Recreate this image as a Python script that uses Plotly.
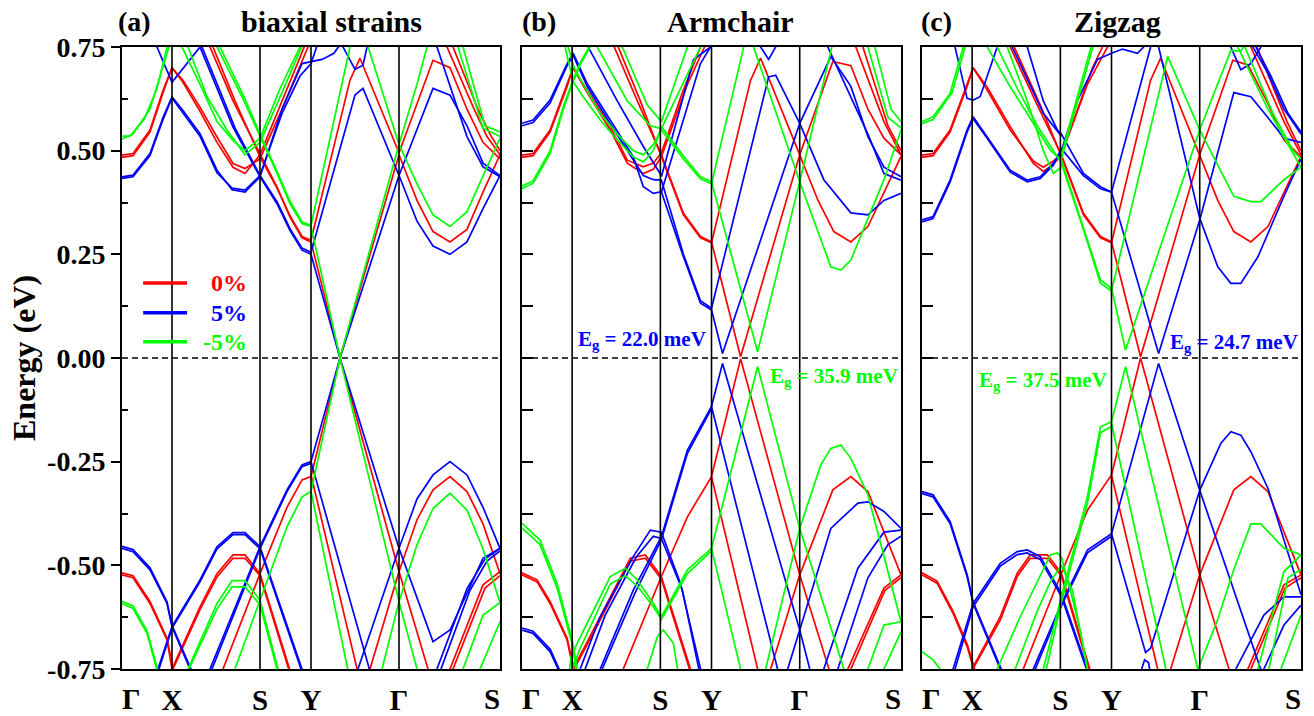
import plotly.graph_objects as go

# ---------------- data ----------------
K_TICKS = [0, 50, 138, 189, 277, 378]          # path length of Γ, X, S, Y, Γ, S
K_LABELS = ["Γ", "X", "S", "Y", "Γ", "S"]
E_TICKS = [-0.75, -0.5, -0.25, 0.0, 0.25, 0.5, 0.75]
E_LABELS = ["-0.75", "-0.50", "-0.25", "0.00", "0.25", "0.50", "0.75"]
E_MINOR = [-0.625, -0.375, -0.125, 0.125, 0.375, 0.625]
STRAIN_LABELS = ["0%", "5%", "-5%"]
PANEL_TAGS = ["(a)", "(b)", "(c)"]
PANEL_TITLES = ["biaxial strains", "Armchair", "Zigzag"]
GAP_B = ["22.0", "35.9"]   # blue, green (armchair)
GAP_C = ["24.7", "37.5"]   # blue, green (zigzag)

# each band: list of (k, E[eV])
A_RED = [
    [(0,0.489),(11,0.493),(28,0.55),(41,0.645),(50,0.70),(61,0.67),(78,0.605),(95,0.533),(111,0.469),(123,0.457),(138,0.48),(160,0.60),(186,0.75),(192,0.79)],
    [(0,0.484),(11,0.488),(28,0.545),(41,0.64),(50,0.70),(61,0.665),(78,0.595),(95,0.52),(111,0.46),(123,0.445),(138,0.49),(162,0.63),(183,0.75),(189,0.79)],
    [(84,0.80),(88,0.75),(111,0.62),(138,0.49),(155,0.412),(168,0.34),(180,0.29),(189,0.28),(218,0.0),(277,0.49),(295,0.38),(311,0.305),(328,0.28),(345,0.31),(361,0.40),(378,0.49)],
    [(87,0.80),(91,0.75),(113,0.62),(138,0.485),(155,0.41),(168,0.343),(180,0.293),(189,0.284),(228,0.67),(238,0.723),(277,0.495),(311,0.718),(328,0.70),(345,0.60),(361,0.52),(378,0.48)],
    [(322,0.80),(325,0.75),(351,0.606),(365,0.534),(378,0.49)],
    [(328,0.80),(331,0.75),(356,0.60),(368,0.54),(378,0.50)],
    [(0,-0.523),(11,-0.53),(28,-0.592),(45,-0.68),(50,-0.75),(54,-0.80)],
    [(0,-0.518),(11,-0.525),(28,-0.587),(45,-0.676),(51,-0.75),(55,-0.80)],
    [(46,-0.80),(50,-0.75),(78,-0.60),(95,-0.52),(111,-0.475),(123,-0.475),(138,-0.52),(168,-0.75),(174,-0.80)],
    [(47,-0.80),(51,-0.75),(78,-0.607),(95,-0.528),(111,-0.483),(123,-0.483),(138,-0.525),(167,-0.75),(173,-0.80)],
    [(95,-0.80),(101,-0.75),(138,-0.52),(165,-0.36),(180,-0.294),(189,-0.286),(218,0.0),(277,-0.515),(306,-0.75),(310,-0.78)],
    [(189,-0.282),(235,-0.75),(238,-0.78)],
    [(245,-0.78),(248,-0.75),(277,-0.515),(295,-0.39),(311,-0.318),(328,-0.286),(345,-0.322),(361,-0.40),(378,-0.52)],
    [(325,-0.78),(328,-0.75),(361,-0.547),(378,-0.515)],
    [(328,-0.78),(331,-0.75),(363,-0.555),(378,-0.525)],
]
A_BLUE = [
    [(0,0.437),(11,0.441),(28,0.493),(41,0.58),(50,0.63),(61,0.597),(78,0.541),(95,0.453),(110,0.406),(123,0.40),(138,0.437),(160,0.60),(180,0.71),(189,0.715),(200,0.72),(212,0.735),(222,0.77)],
    [(0,0.433),(11,0.437),(28,0.488),(41,0.575),(50,0.627),(61,0.59),(78,0.535),(95,0.447),(110,0.41),(123,0.405),(138,0.44),(160,0.59),(178,0.68),(189,0.71),(196,0.76)],
    [(28,0.80),(35,0.75),(50,0.665),(78,0.75),(85,0.80)],
    [(74,0.80),(78,0.75),(111,0.557),(138,0.437),(155,0.372),(168,0.307),(180,0.26),(189,0.25),(218,0.0),(277,0.44),(295,0.33),(311,0.27),(328,0.25),(345,0.28),(361,0.36),(378,0.44)],
    [(76,0.80),(80,0.75),(113,0.555),(138,0.44),(155,0.377),(168,0.312),(180,0.265),(189,0.255),(233,0.634),(241,0.65),(277,0.44),(311,0.65),(328,0.634),(345,0.56),(361,0.47),(378,0.44)],
    [(218,0.78),(221,0.75),(233,0.696),(241,0.706),(245,0.75),(247,0.78)],
    [(311,0.80),(315,0.75),(345,0.534),(361,0.461),(378,0.437)],
    [(0,-0.459),(11,-0.467),(28,-0.511),(45,-0.592),(50,-0.648),(68,-0.75),(72,-0.78)],
    [(0,-0.454),(11,-0.462),(28,-0.506),(45,-0.588),(50,-0.645),(69,-0.75),(73,-0.78)],
    [(31,-0.80),(36,-0.75),(50,-0.648),(78,-0.535),(95,-0.455),(111,-0.421),(123,-0.421),(138,-0.455),(180,-0.75),(185,-0.79)],
    [(32,-0.80),(37,-0.75),(50,-0.652),(78,-0.54),(95,-0.46),(111,-0.426),(123,-0.426),(138,-0.46),(179,-0.75),(184,-0.79)],
    [(82,-0.80),(88,-0.75),(138,-0.455),(165,-0.318),(180,-0.258),(189,-0.25),(218,0.0),(277,-0.459),(311,-0.684),(328,-0.656),(361,-0.483),(378,-0.459)],
    [(85,-0.80),(90,-0.75),(138,-0.46),(165,-0.322),(180,-0.262),(189,-0.254)],
    [(189,-0.25),(248,-0.75),(252,-0.79)],
    [(232,-0.78),(236,-0.75),(277,-0.459),(295,-0.34),(311,-0.282),(328,-0.25),(345,-0.282),(361,-0.36),(378,-0.459)],
    [(313,-0.78),(315,-0.75),(345,-0.556),(363,-0.485),(378,-0.459)],
    [(317,-0.78),(319,-0.75),(348,-0.56),(365,-0.49),(378,-0.465)],
]
A_GREEN = [
    [(0,0.535),(8,0.535),(22,0.575),(35,0.65),(45,0.75),(50,0.80)],
    [(0,0.528),(11,0.54),(28,0.60),(41,0.70),(47,0.75),(52,0.80)],
    [(55,0.80),(60,0.75),(78,0.66),(95,0.57),(111,0.525),(123,0.50),(138,0.53),(158,0.65),(178,0.75),(182,0.78)],
    [(60,0.80),(66,0.75),(85,0.63),(105,0.55),(123,0.49),(138,0.52),(160,0.64),(180,0.75),(185,0.78)],
    [(90,0.80),(95,0.75),(120,0.63),(138,0.535),(155,0.445),(168,0.372),(180,0.324),(189,0.317),(218,0.0),(277,0.515),(295,0.42),(311,0.345),(328,0.317),(345,0.353),(361,0.44),(378,0.53)],
    [(93,0.80),(98,0.75),(122,0.63),(138,0.54),(155,0.45),(168,0.378),(180,0.328),(189,0.32),(228,0.75),(237,0.82),(277,0.515),(295,0.66),(305,0.75),(312,0.80)],
    [(333,0.80),(336,0.75),(361,0.554),(378,0.534)],
    [(338,0.80),(341,0.75),(363,0.56),(378,0.545)],
    [(0,-0.592),(11,-0.604),(25,-0.664),(35,-0.75),(38,-0.78)],
    [(0,-0.587),(11,-0.598),(25,-0.658),(36,-0.75),(39,-0.78)],
    [(62,-0.80),(66,-0.75),(95,-0.592),(110,-0.537),(123,-0.537),(138,-0.584),(156,-0.75),(160,-0.80)],
    [(63,-0.80),(67,-0.75),(95,-0.605),(110,-0.552),(123,-0.552),(138,-0.595),(155,-0.75),(159,-0.80)],
    [(109,-0.80),(113,-0.75),(138,-0.584),(165,-0.407),(180,-0.335),(189,-0.322),(218,0.0),(277,-0.588),(295,-0.75),(298,-0.78)],
    [(189,-0.322),(226,-0.75),(230,-0.80)],
    [(256,-0.80),(260,-0.75),(277,-0.588),(295,-0.45),(311,-0.363),(328,-0.326),(345,-0.367),(361,-0.46),(378,-0.59)],
    [(338,-0.78),(341,-0.75),(361,-0.62),(378,-0.59)],
    [(355,-0.78),(358,-0.75),(378,-0.636)],
]

B_RED = [
    [(0,0.489),(11,0.493),(28,0.55),(45,0.66),(51,0.70),(65,0.646),(88,0.558),(105,0.477),(121,0.461),(131,0.47),(139,0.494),(160,0.64),(178,0.75),(185,0.80)],
    [(0,0.484),(11,0.488),(28,0.545),(45,0.655),(51,0.70),(65,0.64),(88,0.55),(105,0.47),(121,0.445),(131,0.455),(139,0.485),(165,0.66),(182,0.75),(188,0.80)],
    [(88,0.80),(92,0.75),(115,0.62),(139,0.49),(161,0.349),(178,0.293),(189,0.28),(218,0.003),(277,0.49),(295,0.381),(311,0.305),(328,0.28),(345,0.317),(378,0.486)],
    [(92,0.80),(96,0.75),(118,0.62),(139,0.486),(161,0.345),(178,0.29),(189,0.278),(228,0.67),(238,0.723),(277,0.49),(310,0.715),(328,0.705),(345,0.60),(361,0.53),(378,0.49)],
    [(328,0.80),(333,0.75),(361,0.57),(378,0.49)],
    [(335,0.80),(340,0.75),(365,0.56),(378,0.50)],
    [(0,-0.523),(15,-0.54),(28,-0.592),(45,-0.68),(51,-0.75),(55,-0.80)],
    [(0,-0.518),(15,-0.535),(28,-0.587),(45,-0.676),(52,-0.75),(56,-0.80)],
    [(47,-0.80),(51,-0.75),(78,-0.624),(108,-0.483),(123,-0.475),(139,-0.527),(168,-0.75),(172,-0.80)],
    [(48,-0.80),(52,-0.75),(78,-0.632),(108,-0.49),(123,-0.483),(139,-0.533),(167,-0.75),(171,-0.80)],
    [(97,-0.80),(101,-0.75),(139,-0.527),(165,-0.383),(189,-0.286),(218,-0.002),(277,-0.523),(306,-0.75),(310,-0.78)],
    [(189,-0.286),(235,-0.75),(238,-0.78)],
    [(245,-0.78),(248,-0.75),(277,-0.523),(310,-0.318),(328,-0.286),(345,-0.322),(378,-0.523)],
    [(322,-0.78),(325,-0.75),(361,-0.555),(378,-0.523)],
    [(325,-0.78),(328,-0.75),(362,-0.56),(378,-0.53)],
]
B_BLUE = [
    [(0,0.566),(11,0.574),(28,0.622),(45,0.71),(51,0.735),(65,0.662),(88,0.574),(111,0.485),(121,0.413),(131,0.397),(139,0.401),(161,0.244),(178,0.132),(189,0.116),(200,0.011),(277,0.566),(308,0.727),(328,0.655),(345,0.534),(361,0.46),(378,0.437)],
    [(0,0.560),(11,0.568),(28,0.615),(45,0.705),(51,0.73),(65,0.655),(88,0.565),(111,0.478),(121,0.44),(131,0.43),(139,0.429),(161,0.25),(178,0.138),(189,0.12),(246,0.678),(253,0.682),(277,0.566),(301,0.43),(328,0.35),(345,0.345),(361,0.38),(378,0.397)],
    [(139,0.437),(160,0.62),(171,0.72),(188,0.75),(195,0.77)],
    [(139,0.40),(155,0.526),(178,0.71),(188,0.75),(192,0.78)],
    [(60,0.80),(66,0.75),(95,0.62),(121,0.51),(139,0.44)],
    [(236,0.78),(238,0.75),(246,0.72),(253,0.75),(256,0.78)],
    [(300,0.80),(305,0.75),(345,0.54),(361,0.445),(378,0.429)],
    [(0,-0.656),(11,-0.664),(28,-0.708),(36,-0.75),(40,-0.78)],
    [(0,-0.651),(11,-0.659),(28,-0.702),(37,-0.75),(41,-0.78)],
    [(55,-0.78),(58,-0.75),(78,-0.624),(111,-0.479),(128,-0.415),(139,-0.42),(158,-0.543),(178,-0.75),(181,-0.78)],
    [(60,-0.78),(63,-0.75),(83,-0.62),(114,-0.48),(131,-0.43),(139,-0.435),(160,-0.56),(176,-0.75),(179,-0.78)],
    [(75,-0.78),(78,-0.75),(111,-0.56),(139,-0.431),(165,-0.222),(189,-0.117),(200,-0.013),(277,-0.656),(287,-0.75),(290,-0.78)],
    [(77,-0.78),(80,-0.75),(113,-0.565),(139,-0.438),(165,-0.23),(189,-0.122)],
    [(189,-0.117),(255,-0.75),(258,-0.78)],
    [(262,-0.78),(265,-0.75),(277,-0.656),(308,-0.411),(335,-0.35),(345,-0.347),(361,-0.37),(378,-0.411)],
    [(298,-0.78),(301,-0.75),(335,-0.507),(361,-0.42),(378,-0.415)],
    [(312,-0.78),(315,-0.75),(345,-0.53),(365,-0.45),(378,-0.43)],
]
B_GREEN = [
    [(0,0.409),(11,0.421),(28,0.493),(41,0.598),(51,0.666),(58,0.707),(68,0.75),(72,0.78)],
    [(0,0.415),(11,0.427),(28,0.50),(41,0.605),(51,0.672),(58,0.712),(67,0.75),(71,0.78)],
    [(40,0.80),(43,0.75),(51,0.666),(61,0.63),(78,0.574),(95,0.526),(111,0.485),(121,0.473),(131,0.50),(139,0.558),(161,0.487),(178,0.437),(189,0.425),(235,0.015),(277,0.425),(309,0.75),(312,0.78)],
    [(42,0.80),(46,0.75),(52,0.70),(61,0.66),(78,0.59),(95,0.54),(111,0.50),(121,0.49),(131,0.515),(139,0.55),(161,0.48),(178,0.432),(189,0.42),(221,0.75),(226,0.80)],
    [(228,0.80),(231,0.75),(277,0.425),(308,0.22),(318,0.212),(328,0.236),(361,0.43),(378,0.55)],
    [(70,0.80),(75,0.75),(105,0.62),(128,0.56),(139,0.553),(160,0.66),(178,0.75),(182,0.78)],
    [(95,0.80),(100,0.75),(125,0.61),(139,0.57),(165,0.75),(170,0.80)],
    [(340,0.80),(345,0.75),(365,0.58),(378,0.555)],
    [(348,0.80),(352,0.75),(368,0.60),(378,0.57)],
    [(0,-0.399),(18,-0.439),(35,-0.544),(50,-0.68),(55,-0.75),(58,-0.78)],
    [(0,-0.41),(18,-0.45),(35,-0.555),(50,-0.69),(54,-0.75),(57,-0.78)],
    [(46,-0.78),(49,-0.72),(55,-0.688),(88,-0.527),(103,-0.507),(115,-0.535),(131,-0.592),(139,-0.624),(165,-0.511),(189,-0.459),(235,-0.021),(277,-0.411),(321,-0.75),(324,-0.78)],
    [(48,-0.78),(52,-0.74),(58,-0.70),(88,-0.545),(103,-0.525),(115,-0.55),(131,-0.60),(139,-0.63),(165,-0.52),(189,-0.465)],
    [(189,-0.459),(218,-0.75),(221,-0.78)],
    [(240,-0.78),(243,-0.75),(277,-0.411),(298,-0.258),(308,-0.218),(318,-0.21),(328,-0.242),(345,-0.33),(378,-0.636)],
    [(123,-0.78),(125,-0.75),(135,-0.672),(141,-0.656),(151,-0.688),(155,-0.75),(157,-0.78)],
    [(343,-0.78),(345,-0.75),(361,-0.644),(378,-0.636)],
    [(359,-0.78),(361,-0.75),(378,-0.66)],
]

C_RED = [
    [(0,0.489),(11,0.493),(28,0.55),(45,0.66),(51,0.70),(65,0.653),(88,0.558),(111,0.469),(121,0.45),(131,0.467),(139,0.49),(165,0.66),(185,0.75),(190,0.78)],
    [(0,0.484),(11,0.488),(28,0.545),(45,0.655),(51,0.70),(65,0.646),(88,0.55),(111,0.475),(121,0.46),(131,0.475),(139,0.49),(170,0.70),(180,0.75),(185,0.78)],
    [(84,0.80),(88,0.75),(115,0.61),(139,0.49),(161,0.349),(178,0.293),(189,0.28),(218,0.003),(277,0.49),(310,0.718),(325,0.707),(345,0.614),(361,0.526),(378,0.485)],
    [(88,0.80),(92,0.75),(118,0.61),(139,0.487),(161,0.345),(178,0.29),(189,0.278),(228,0.67),(238,0.723),(277,0.49),(295,0.38),(311,0.305),(328,0.28),(345,0.317),(378,0.486)],
    [(325,0.80),(328,0.75),(361,0.57),(378,0.49)],
    [(330,0.80),(334,0.75),(364,0.57),(378,0.50)],
    [(0,-0.523),(15,-0.543),(31,-0.616),(45,-0.696),(51,-0.745),(54,-0.78)],
    [(0,-0.518),(15,-0.538),(31,-0.611),(45,-0.69),(52,-0.745),(55,-0.78)],
    [(48,-0.78),(51,-0.745),(78,-0.624),(95,-0.519),(108,-0.475),(125,-0.475),(139,-0.519),(168,-0.75),(171,-0.78)],
    [(49,-0.78),(52,-0.745),(78,-0.632),(95,-0.527),(108,-0.483),(125,-0.483),(139,-0.525),(167,-0.75),(170,-0.78)],
    [(97,-0.78),(101,-0.75),(139,-0.519),(165,-0.367),(189,-0.282),(218,0.0),(277,-0.523),(306,-0.75),(310,-0.78)],
    [(189,-0.282),(235,-0.75),(238,-0.78)],
    [(245,-0.78),(248,-0.75),(277,-0.523),(311,-0.318),(328,-0.286),(345,-0.322),(378,-0.523)],
    [(322,-0.78),(325,-0.75),(361,-0.547),(378,-0.523)],
    [(325,-0.78),(328,-0.75),(362,-0.555),(378,-0.53)],
]
C_BLUE = [
    [(0,0.333),(11,0.341),(28,0.429),(45,0.55),(51,0.582),(65,0.534),(88,0.453),(105,0.429),(118,0.437),(131,0.47),(139,0.50),(155,0.62),(175,0.72),(189,0.735),(200,0.745),(215,0.735),(225,0.76)],
    [(0,0.328),(11,0.336),(28,0.424),(45,0.545),(51,0.577),(65,0.53),(88,0.448),(105,0.425),(118,0.433),(131,0.465),(139,0.505),(161,0.44),(178,0.408),(189,0.40),(236,0.011),(277,0.333),(311,0.64),(328,0.63),(345,0.58),(361,0.53),(378,0.52)],
    [(100,0.80),(105,0.75),(121,0.62),(135,0.55),(139,0.54),(161,0.445),(178,0.413),(189,0.40),(228,0.75),(232,0.79),(236,0.75),(277,0.337),(295,0.22),(308,0.18),(318,0.18),(335,0.244),(361,0.39),(378,0.48)],
    [(30,0.78),(33,0.75),(45,0.626),(51,0.622),(58,0.63),(75,0.75),(78,0.78)],
    [(85,0.80),(90,0.75),(121,0.59),(139,0.535)],
    [(305,0.78),(308,0.75),(318,0.695),(328,0.71),(338,0.75),(341,0.78)],
    [(325,0.80),(330,0.75),(345,0.687),(361,0.60),(378,0.54)],
    [(328,0.80),(333,0.75),(348,0.68),(365,0.59),(378,0.545)],
    [(0,-0.327),(11,-0.335),(28,-0.399),(45,-0.527),(51,-0.592),(78,-0.75),(82,-0.78)],
    [(0,-0.322),(11,-0.33),(28,-0.394),(45,-0.522),(51,-0.588),(79,-0.75),(83,-0.78)],
    [(28,-0.78),(31,-0.75),(51,-0.592),(78,-0.495),(95,-0.467),(105,-0.463),(118,-0.479),(139,-0.568),(165,-0.75),(168,-0.78)],
    [(30,-0.78),(33,-0.75),(51,-0.60),(78,-0.502),(95,-0.474),(105,-0.47),(118,-0.486),(139,-0.575),(164,-0.75),(167,-0.78)],
    [(108,-0.78),(111,-0.75),(139,-0.592),(165,-0.463),(189,-0.424),(236,-0.013),(277,-0.319),(338,-0.75),(342,-0.78)],
    [(110,-0.78),(113,-0.75),(139,-0.598),(165,-0.47),(189,-0.43)],
    [(189,-0.424),(223,-0.71),(228,-0.70),(277,-0.319),(298,-0.206),(308,-0.178),(318,-0.186),(328,-0.226),(345,-0.314),(378,-0.571)],
    [(215,-0.78),(218,-0.755),(222,-0.728),(226,-0.735),(229,-0.78)],
    [(311,-0.78),(313,-0.75),(341,-0.62),(361,-0.576),(378,-0.576)],
    [(339,-0.78),(341,-0.75),(361,-0.644),(378,-0.596)],
]
C_GREEN = [
    [(0,0.570),(11,0.582),(28,0.638),(41,0.75),(45,0.80)],
    [(0,0.565),(11,0.575),(30,0.64),(43,0.75),(47,0.80)],
    [(60,0.80),(65,0.75),(88,0.654),(111,0.566),(128,0.501),(139,0.477),(161,0.317),(178,0.188),(189,0.168),(203,0.019),(277,0.55),(308,0.742),(318,0.74),(330,0.80)],
    [(70,0.80),(75,0.75),(95,0.65),(115,0.56),(131,0.50),(139,0.47),(161,0.31),(178,0.18),(189,0.162),(245,0.727),(277,0.55),(311,0.39),(328,0.377),(338,0.377),(361,0.43),(378,0.46)],
    [(139,0.49),(168,0.75),(172,0.78)],
    [(139,0.48),(165,0.70),(175,0.79)],
    [(80,0.80),(85,0.75),(105,0.62),(121,0.50),(131,0.445),(139,0.46)],
    [(312,0.80),(315,0.75),(345,0.60),(378,0.46)],
    [(318,0.80),(322,0.75),(350,0.59),(370,0.50),(378,0.48)],
    [(0,-0.708),(11,-0.728),(18,-0.75),(22,-0.78)],
    [(72,-0.78),(75,-0.75),(98,-0.624),(118,-0.527),(128,-0.475),(135,-0.47),(139,-0.48),(150,-0.58),(158,-0.66),(165,-0.75)],
    [(90,-0.78),(93,-0.75),(115,-0.61),(128,-0.54),(139,-0.50),(150,-0.56),(165,-0.75)],
    [(118,-0.78),(121,-0.75),(139,-0.575),(165,-0.334),(178,-0.166),(189,-0.154),(203,-0.021),(275,-0.75),(278,-0.78)],
    [(121,-0.78),(124,-0.75),(139,-0.59),(165,-0.35),(178,-0.18),(189,-0.165)],
    [(189,-0.158),(243,-0.75),(246,-0.78)],
    [(270,-0.80),(275,-0.75),(277,-0.74),(295,-0.63),(311,-0.51),(328,-0.40),(338,-0.40),(361,-0.459),(378,-0.475)],
    [(333,-0.78),(335,-0.75),(361,-0.515),(378,-0.475)],
    [(343,-0.78),(346,-0.75),(365,-0.53),(378,-0.51)],
    [(355,-0.78),(358,-0.75),(378,-0.62)],
]

# ---------------- styling ----------------
RED, BLUE, GREEN = "#FF0000", "#0000FF", "#00FF00"
FONT = "Liberation Serif"
W, H = 1314, 716
X_DOMAINS = [(122 / W, 500 / W), (522 / W, 901 / W), (922 / W, 1301 / W)]
Y_DOMAIN = (1 - 669 / H, 1 - 47 / H)
XLAB_Y = 1 - 699 / H          # vertical centre of the k-point labels
TITLE_Y = 1 - 21 / H

PANELS = [
    [(A_RED, RED), (A_BLUE, BLUE), (A_GREEN, GREEN)],
    [(B_RED, RED), (B_BLUE, BLUE), (B_GREEN, GREEN)],
    [(C_RED, RED), (C_BLUE, BLUE), (C_GREEN, GREEN)],
]

fig = go.Figure()
for p, panel in enumerate(PANELS):
    sfx = "" if p == 0 else str(p + 1)
    for bands, col in panel:
        for band in bands:
            fig.add_trace(go.Scatter(
                x=[k for k, e in band], y=[e for k, e in band],
                mode="lines", line=dict(color=col, width=1.7),
                xaxis="x" + sfx, yaxis="y" + sfx,
                showlegend=False, hoverinfo="skip"))

layout = dict(
    width=W, height=H, margin=dict(l=0, r=0, t=0, b=0, autoexpand=False),
    paper_bgcolor="white", plot_bgcolor="white",
    font=dict(family=FONT, color="black"),
    shapes=[], annotations=[],
)
LABEL_FONT = dict(family=FONT, size=29, color="black", weight="bold")
for p in range(3):
    sfx = "" if p == 0 else str(p + 1)
    xa = dict(domain=list(X_DOMAINS[p]), range=[K_TICKS[0], K_TICKS[-1]],
              tickvals=K_TICKS[1:-1], ticktext=K_LABELS[1:-1], ticks="", showgrid=False,
              zeroline=False, showline=True, mirror=True, linecolor="black",
              linewidth=2, anchor="y" + sfx, ticklabelstandoff=4, automargin=False,
              tickfont=LABEL_FONT)
    ya = dict(domain=list(Y_DOMAIN), range=[-0.75, 0.75], showgrid=False,
              zeroline=False, showline=True, mirror=True, linecolor="black",
              linewidth=2, anchor="x" + sfx, automargin=False)
    if p == 0:
        ya.update(tickvals=E_TICKS, ticktext=E_LABELS, ticks="outside",
                  ticklen=9, tickwidth=2, tickcolor="black",
                  tickfont=dict(family=FONT, size=28, color="black", weight="bold"),
                  minor=dict(tickvals=E_MINOR, ticks="inside", ticklen=6,
                             tickwidth=2, tickcolor="black"))
    else:
        ya.update(tickvals=E_TICKS + E_MINOR, showticklabels=False,
                  ticks="inside", ticklen=11, tickwidth=2, tickcolor="black")
    layout["xaxis" + sfx] = xa
    layout["yaxis" + sfx] = ya

    # edge k-point labels, nudged inside the panel like in the original
    layout["annotations"].append(dict(text=K_LABELS[0], xref="x" + sfx + " domain", yref="paper",
                                      x=0.024, y=XLAB_Y, xanchor="center", yanchor="middle",
                                      showarrow=False, font=LABEL_FONT))
    layout["annotations"].append(dict(text=K_LABELS[-1], xref="x" + sfx + " domain", yref="paper",
                                      x=0.978, y=XLAB_Y, xanchor="center", yanchor="middle",
                                      showarrow=False, font=LABEL_FONT))

    # high-symmetry vertical lines
    for kv in K_TICKS[1:-1]:
        layout["shapes"].append(dict(type="line", xref="x" + sfx, yref="y" + sfx + " domain",
                                     x0=kv, x1=kv, y0=0, y1=1,
                                     line=dict(color="black", width=1.6), layer="above"))
    # Fermi level
    layout["shapes"].append(dict(type="line", xref="x" + sfx + " domain", yref="y" + sfx,
                                 x0=0, x1=1, y0=0, y1=0,
                                 line=dict(color="black", width=1.6, dash="6px,4px"), layer="above"))
    # headers
    layout["annotations"].append(dict(text="<b>" + PANEL_TAGS[p] + "</b>", xref="x" + sfx + " domain",
                                      yref="paper", x=[0.032, 0.045, 0.037][p], y=TITLE_Y,
                                      xanchor="center", yanchor="middle",
                                      showarrow=False, font=dict(size=28, family=FONT)))
    layout["annotations"].append(dict(text="<b>" + PANEL_TITLES[p] + "</b>", xref="x" + sfx + " domain",
                                      yref="paper", x=[0.555, 0.55, 0.515][p], y=TITLE_Y,
                                      xanchor="center", yanchor="middle",
                                      showarrow=False, font=dict(size=30, family=FONT)))

# y-axis title
layout["annotations"].append(dict(text="<b>Energy (eV)</b>", xref="paper", yref="paper",
                                  x=24 / W, y=0.5, xanchor="center", yanchor="middle",
                                  textangle=-90, showarrow=False,
                                  font=dict(size=32, family=FONT)))

# legend (panel a)
for i, (lab, col) in enumerate(zip(STRAIN_LABELS, [RED, BLUE, GREEN])):
    yv = [0.181, 0.109, 0.039][i]
    layout["shapes"].append(dict(type="line", xref="x domain", yref="y",
                                 x0=0.056, x1=0.172, y0=yv, y1=yv,
                                 line=dict(color=col, width=3.5)))
    layout["annotations"].append(dict(text="<b>" + lab + "</b>", xref="x domain", yref="y",
                                      x=0.335, y=yv, xanchor="right", yanchor="middle",
                                      showarrow=False,
                                      font=dict(size=24, family=FONT, color=col)))

# gap annotations
def eg(val):
    return "<b>E<sub>g</sub> = " + val + " meV</b>"

layout["annotations"] += [
    dict(text=eg(GAP_B[0]), xref="x2", yref="y2", x=54, y=0.043, xanchor="left", yanchor="middle",
         showarrow=False, font=dict(size=21, family=FONT, color=BLUE)),
    dict(text=eg(GAP_B[1]), xref="x2", yref="y2", x=377, y=-0.045, xanchor="right", yanchor="middle",
         showarrow=False, font=dict(size=21, family=FONT, color=GREEN)),
    dict(text=eg(GAP_C[0]), xref="x3", yref="y3", x=377, y=0.036, xanchor="right", yanchor="middle",
         showarrow=False, font=dict(size=21, family=FONT, color=BLUE)),
    dict(text=eg(GAP_C[1]), xref="x3", yref="y3", x=55, y=-0.056, xanchor="left", yanchor="middle",
         showarrow=False, font=dict(size=21, family=FONT, color=GREEN)),
]

fig.update_layout(**layout)
fig.write_html("out.html")
